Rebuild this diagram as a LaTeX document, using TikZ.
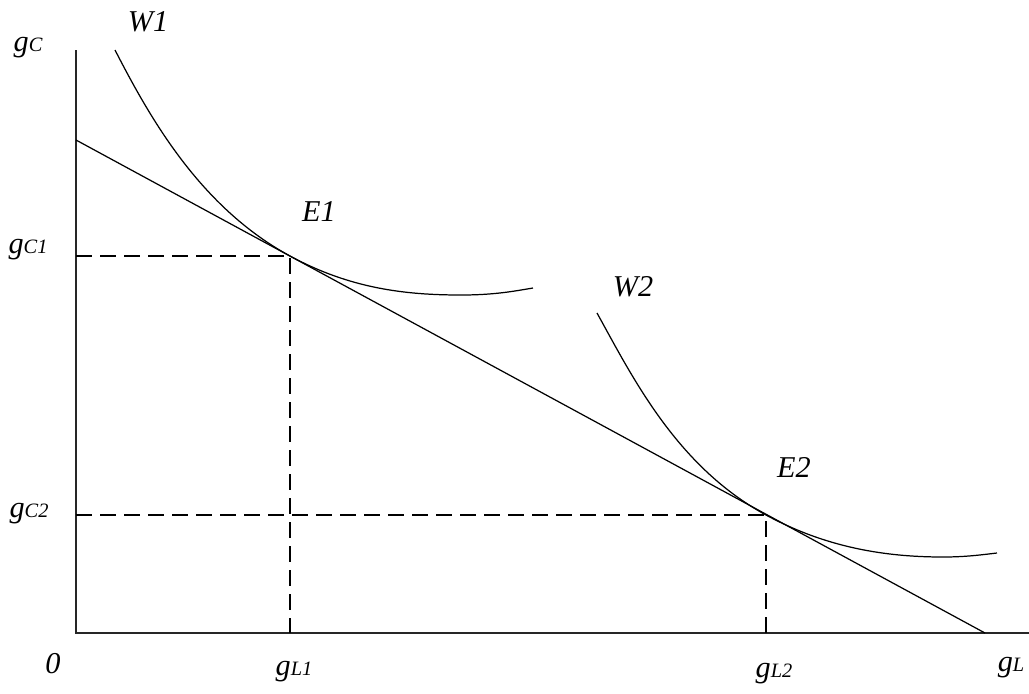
\documentclass[tikz,border=0pt]{standalone}
\usepackage{fontspec}
\setmainfont{Liberation Serif}
\usepackage{tikz}

\newcommand\lblfont{\fontsize{8.6}{10}\selectfont\itshape}
\newcommand\smc[1]{{\fontsize{5.8}{6}\selectfont #1}}

\begin{document}
\begin{tikzpicture}[
    x=0.01cm,
    y=-0.01cm,
    every node/.style={font=\lblfont, inner sep=0pt},
    axis/.style={line width=0.55pt, draw=black!85},
    budget/.style={line width=0.35pt},
    curve/.style={line width=0.35pt},
    guide/.style={line width=0.35pt, dash pattern=on 0.16cm off 0.08cm}
]
\useasboundingbox (0,0) rectangle (1029,693);

\coordinate (o) at (76,633);
\coordinate (ytop) at (76,50);
\coordinate (xend) at (1029,633);
\coordinate (b0) at (76,140);
\coordinate (b1) at (985,633);
\coordinate (e1) at (290,256);
\coordinate (e2) at (766,515);
\coordinate (c1) at (76,256);
\coordinate (c2) at (76,515);
\coordinate (l1) at (290,633);
\coordinate (l2) at (766,633);
\coordinate (w1s) at (115,50);
\coordinate (w1m) at (461,295);
\coordinate (w1e) at (533,288);
\coordinate (w2s) at (597,313);
\coordinate (w2m) at (943,557);
\coordinate (w2e) at (997,553);

\draw[axis] (ytop) -- (o) -- (xend);
\draw[budget] (b0) -- (b1);

\draw[guide] (c1) -- (e1) -- (l1);
\draw[guide] (c2) -- (e2) -- (l2);

\draw[curve] (w1s) .. controls (150,118) and (200,207) .. (e1)
  .. controls (350,288.5) and (405,295) .. (w1m)
  .. controls (495,295) and (515,291) .. (w1e);
\draw[curve] (w2s) .. controls (632,376) and (676,466) .. (e2)
  .. controls (826,547.5) and (885,557) .. (w2m)
  .. controls (965,557) and (980,555) .. (w2e);

\node (ngc) at (28,48) {g\smc{C}};
\node (nw1) at (148,22) {W1};
\node (ngc1) at (28,250) {g\smc{C1}};
\node (ngc2) at (29,514) {g\smc{C2}};
\node (nzero) at (53,664) {0};
\node (ngl1) at (294,672) {g\smc{L1}};
\node (ngl2) at (774,674) {g\smc{L2}};
\node (ngl) at (1011,668) {g\smc{L}};
\node (ne1) at (319,212) {E1};
\node (nw2) at (633,287) {W2};
\node (ne2) at (794,467) {E2};
\end{tikzpicture}
\end{document}
